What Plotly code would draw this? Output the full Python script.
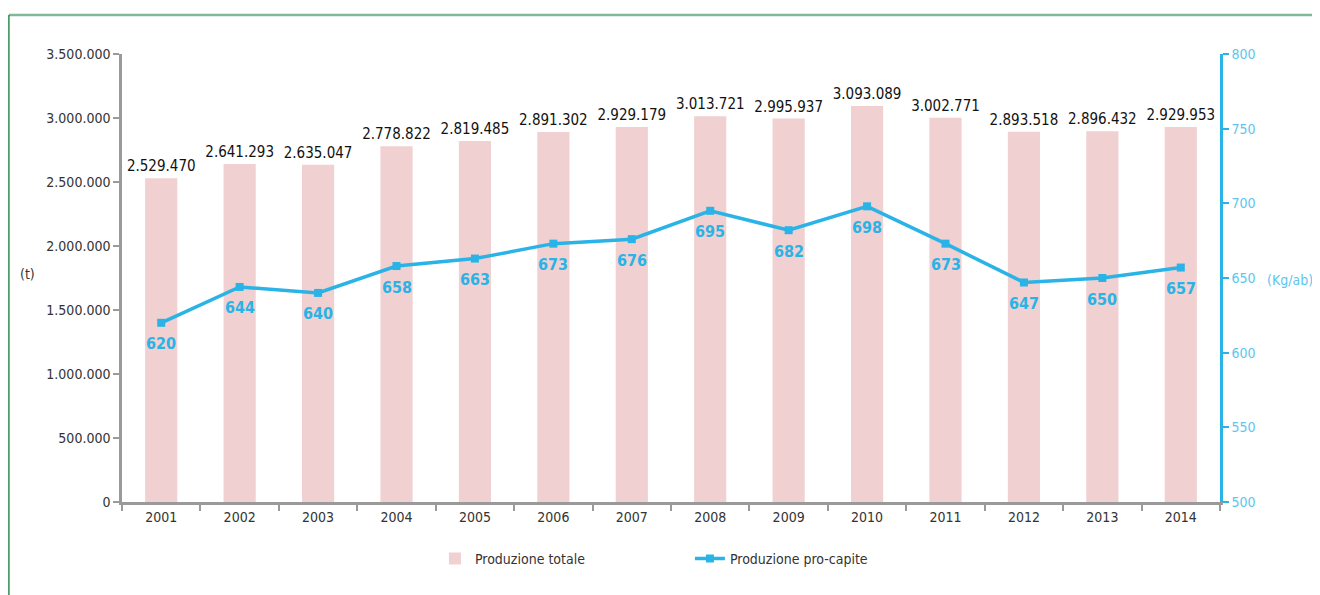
import plotly.graph_objects as go

anni = ['2001', '2002', '2003', '2004', '2005', '2006', '2007',
        '2008', '2009', '2010', '2011', '2012', '2013', '2014']
prod_totale = [2529470, 2641293, 2635047, 2778822, 2819485, 2891302, 2929179,
               3013721, 2995937, 3093089, 3002771, 2893518, 2896432, 2929953]
prod_procapite = [620, 644, 640, 658, 663, 673, 676,
                  695, 682, 698, 673, 647, 650, 657]

font_fam = 'DejaVu Sans Condensed, Liberation Sans Narrow, sans-serif'
blu = '#29b3e6'
rosa = '#f0d0d0'
grigio = '#9a9a9a'

fig = go.Figure()
fig.add_trace(go.Bar(
    x=anni, y=prod_totale, name='Produzione totale',
    marker=dict(color=rosa, line=dict(width=0)),
    texttemplate='%{y:,d}', textposition='outside', constraintext='none',
    textfont=dict(family=font_fam, size=15, color='#111111'),
    cliponaxis=False,
))
fig.add_trace(go.Scatter(
    x=anni, y=prod_procapite, name='Produzione pro-capite', yaxis='y2',
    mode='lines+markers',
    line=dict(color=blu, width=3.5),
    marker=dict(symbol='square', size=8, color=blu),
    cliponaxis=False,
))

# etichette pro-capite sotto i punti (x = indice di categoria)
etichette = []
for i, v in enumerate(prod_procapite):
    etichette.append(dict(
        x=i, y=v, xref='x', yref='y2', text=str(v), showarrow=False,
        yshift=-21, font=dict(family=font_fam, size=16, color=blu, weight='bold'),
    ))

fig.update_layout(
    width=1320, height=595,
    margin=dict(l=114, r=108, t=46, b=101),
    plot_bgcolor='white', paper_bgcolor='white',
    separators=',.',
    bargap=0.59,
    font=dict(family=font_fam, size=14, color='#333333'),
    xaxis=dict(
        type='category', range=[-0.5, 13.5],
        showline=True, linecolor=grigio, linewidth=2.5,
        ticks='outside', tickson='boundaries', ticklen=6, tickwidth=2, tickcolor=grigio,
        tickfont=dict(size=14, color='#333333'),
        showgrid=False,
    ),
    yaxis=dict(
        range=[0, 3500000], dtick=500000, tickformat=',d',
        showline=True, linecolor=grigio, linewidth=2.5,
        ticks='outside', ticklen=6, tickwidth=2, tickcolor=grigio,
        tickfont=dict(size=14, color='#333333'),
        showgrid=False, zeroline=False,
    ),
    yaxis2=dict(
        range=[500, 800], dtick=50, overlaying='y', side='right',
        showline=True, linecolor=blu, linewidth=2.5,
        ticks='outside', ticklen=6, tickwidth=2, tickcolor=blu,
        tickfont=dict(size=14, color='#5cc6ee'),
        showgrid=False, zeroline=False,
    ),
    legend=dict(
        orientation='h', x=0.285, xanchor='left', y=-0.127, yanchor='middle',
        entrywidth=210, font=dict(size=14, color='#333333'),
    ),
    annotations=etichette + [
        dict(text='(t)', xref='paper', yref='paper', x=-0.077, xanchor='right', y=0.51,
             showarrow=False, font=dict(size=14, color='#333333')),
        dict(text='(Kg/ab)', xref='paper', yref='paper', x=1.041, xanchor='left', y=0.495,
             showarrow=False, font=dict(size=14, color='#5cc6ee')),
    ],
    shapes=[
        dict(type='line', xref='paper', yref='paper', x0=-0.103, x1=1.1,
             y0=1.087, y1=1.087, line=dict(color='#7dba95', width=2.5)),
        dict(type='line', xref='paper', yref='paper', x0=-0.103, x1=-0.103,
             y0=1.087, y1=-0.25, line=dict(color='#2e8b4e', width=1.5)),
    ],
)

fig.write_html('out.html')
